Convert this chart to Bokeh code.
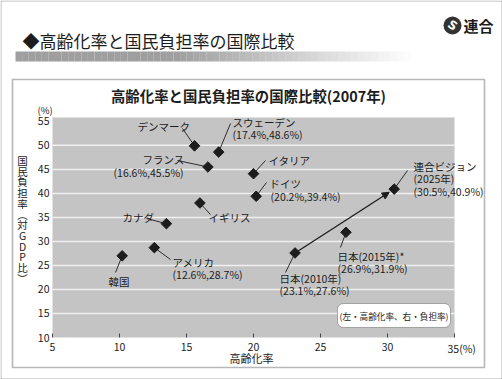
import math
from bokeh.plotting import figure
from bokeh.models import (Range1d, FixedTicker, Label, LabelSet, BoxAnnotation,
                          ColumnDataSource, Arrow, NormalHead, LinearAxis)
from bokeh.embed import file_html
from bokeh.resources import INLINE
from bokeh.core.properties import value

# ---------------- data ----------------
names = ["デンマーク", "スウェーデン", "フランス", "イタリア", "ドイツ", "イギリス",
         "カナダ", "アメリカ", "韓国", "日本(2010年)", "日本(2015年)", "連合ビジョン(2025年)"]
aging = [15.6, 17.4, 16.6, 20.0, 20.2, 16.0, 13.5, 12.6, 10.2, 23.1, 26.9, 30.5]
burden = [49.9, 48.6, 45.5, 44.1, 39.4, 38.0, 33.7, 28.7, 27.0, 27.6, 31.9, 40.9]
x_ticks = [5, 10, 15, 20, 25, 30, 35]
y_ticks = [10, 15, 20, 25, 30, 35, 40, 45, 50, 55]
grid_levels = [15, 20, 25, 30, 35, 40, 45, 50]

header_text = "◆高齢化率と国民負担率の国際比較"
title_text = "高齢化率と国民負担率の国際比較(2007年)"
x_label = "高齢化率"
y_label_chars = ["国", "民", "負", "担", "率", "︵", "対", "G", "D", "P", "比", "︶"]
note_text = "(左・高齢化率、右・負担率)"

# label lines: text, left pixel, centre pixel (layout in reference pixels)
label_lines = [
    ("デンマーク", 137, 126), ("スウェーデン", 232, 122), ("(17.4%,48.6%)", 232, 134),
    ("フランス", 142, 159), ("(16.6%,45.5%)", 113, 172),
    ("イタリア", 268, 160), ("ドイツ", 269, 183), ("(20.2%,39.4%)", 270, 196),
    ("イギリス", 208, 217), ("カナダ", 122, 217),
    ("アメリカ", 172, 262), ("(12.6%,28.7%)", 172, 274), ("韓国", 108, 281),
    ("日本(2010年)", 279, 278), ("(23.1%,27.6%)", 279, 290),
    ("日本(2015年)*", 337, 256), ("(26.9%,31.9%)", 337, 268),
    ("連合ビジョン", 413, 166), ("(2025年)", 413, 178), ("(30.5%,40.9%)", 413, 191),
]
# leader line end (pixel) for each point, same order as names
leader_px = [(182, 128), (230, 123), (177, 160), (265, 160), (266, 182), (210, 214),
             (146, 218), (170, 259), (115, 272), (285, 272), (340, 247), (407, 170)]

# ---------------- layout ----------------
W, H = 502, 379
PL, PR, PT, PB = 52, 454, 117, 337     # plot area in pixels
X0, X1, Y0, Y1 = 5, 35, 10, 55.8
NUM = "Liberation Sans Narrow, Noto Sans CJK JP"
JP = "Noto Sans CJK JP"
INK = "#1c1c1c"

kx = (X1 - X0) / (PR - PL)
ky = (Y1 - Y0) / (PB - PT)


def dx(px):
    return X0 + (px - PL) * kx


def dy(py):
    return Y1 - (py - PT) * ky


p = figure(width=W, height=H, x_range=Range1d(dx(0), dx(W)), y_range=Range1d(dy(H), dy(0)),
           output_backend="svg", toolbar_location=None, title=None,
           x_axis_location=None, y_axis_location=None,
           min_border=0, border_fill_color="white", background_fill_color="white",
           outline_line_color=None)
p.grid.visible = False

# plot area background and grid lines
p.quad(left=[X0], right=[X1], bottom=[Y0], top=[Y1], fill_color="#c4c4c4", line_color=None)
p.segment(x0=[X0] * len(grid_levels), x1=[X1] * len(grid_levels), y0=grid_levels,
          y1=grid_levels, line_color="white", line_alpha=0.75, line_width=1.5)

xaxis = LinearAxis(fixed_location=Y0, ticker=FixedTicker(ticks=x_ticks))
xaxis.major_label_overrides = {35: ""}
xaxis.axis_line_color = None
xaxis.major_tick_in = 4
xaxis.major_tick_out = 0
xaxis.major_tick_line_color = "#444"
xaxis.minor_tick_line_color = None
xaxis.major_label_standoff = 5
yaxis = LinearAxis(fixed_location=X0, ticker=FixedTicker(ticks=y_ticks))
yaxis.axis_line_color = None
yaxis.major_tick_line_color = None
yaxis.minor_tick_line_color = None
yaxis.major_tick_in = 0
yaxis.major_tick_out = 0
yaxis.major_label_standoff = 3
for ax in (xaxis, yaxis):
    ax.major_label_text_font = NUM
    ax.major_label_text_font_size = "10.5px"
    ax.major_label_text_color = INK
p.add_layout(xaxis, "below")
p.add_layout(yaxis, "left")

# leader lines
p.segment(x0=aging, y0=burden, x1=[dx(a) for a, b in leader_px],
          y1=[dy(b) for a, b in leader_px], line_color=INK, line_width=0.9)

# arrow Japan 2010 -> 2025
j0, j1 = 9, 11
f = 0.95
p.add_layout(Arrow(end=NormalHead(size=7, fill_color=INK, line_color=INK),
                   x_start=aging[j0], y_start=burden[j0],
                   x_end=aging[j0] + f * (aging[j1] - aging[j0]),
                   y_end=burden[j0] + f * (burden[j1] - burden[j0]),
                   line_color=INK, line_width=1.3))

p.scatter(aging, burden, marker="square", size=7.5, angle=math.pi / 4, color=INK)

src = ColumnDataSource(dict(x=[dx(a) for t, a, b in label_lines],
                            y=[dy(b) for t, a, b in label_lines],
                            text=[t for t, a, b in label_lines]))
p.add_layout(LabelSet(x="x", y="y", text="text", source=src, text_align="left",
                      text_baseline="middle", text_font=value(NUM),
                      text_font_size="10.5px", text_color=INK))


def clabel(text, px, py, size, align="left", bold=False, font=NUM, color=INK, **kw):
    lab = Label(x=dx(px), y=dy(py), text=text,
                text_align=align, text_baseline="middle", text_font=font,
                text_font_size=size, text_color=color,
                text_font_style="bold" if bold else "normal", **kw)
    p.add_layout(lab)
    return lab


def cbox(l, t, r, b, **kw):
    box = BoxAnnotation(left=dx(l), right=dx(r), top=dy(t), bottom=dy(b), **kw)
    p.add_layout(box)
    return box


# outer frame and chart box
cbox(0.5, 0.5, 501.5, 378.5, fill_alpha=0, line_color="black", line_width=1)
cbox(12, 79, 484, 367, fill_alpha=0, line_color="#111", line_width=1.6)

# header gradient strip
n = 60
for i in range(n):
    x_a = 15 + i * (410 - 15) / n
    x_b = 15 + (i + 1) * (410 - 15) / n
    t = (x_a - 15) / (410 - 15)
    alpha = 0.95 if t < 0.4 else max(0.0, 0.95 * (1 - (t - 0.4) / 0.6))
    cbox(x_a, 51, x_b, 61, fill_color="#9a9a9a", fill_alpha=alpha, line_color=None)

clabel(header_text, 22, 40, "17px", font=JP)

# logo
cbox(443, 16, 461, 34, fill_color="#333", fill_alpha=1, line_color=None, border_radius=9)
clabel("S", 452, 25, "12px", align="center", bold=True, font="DejaVu Sans", color="white",
       angle=-0.6)
clabel("連合", 463, 25, "15px", bold=True, font=JP)

# chart title and axis texts
clabel(title_text, 248, 95, "14.4px", align="center", bold=True)
clabel("(%)", 37, 109, "9.5px")
clabel(x_label, 251, 357, "11px", align="center", font=JP)
clabel("35(%)", 447, 348, "10.5px")
for i, ch in enumerate(y_label_chars):
    clabel(ch, 22, 160 + i * 10.7, "10.5px", align="center", font=JP)

# note box
cbox(337, 303, 450, 327, fill_color="white", fill_alpha=1, line_color="#111",
     line_width=1, border_radius=6)
clabel(note_text, 393.5, 315, "8.6px", align="center", font=NUM)

open("out.html", "w").write(file_html(p, INLINE))
